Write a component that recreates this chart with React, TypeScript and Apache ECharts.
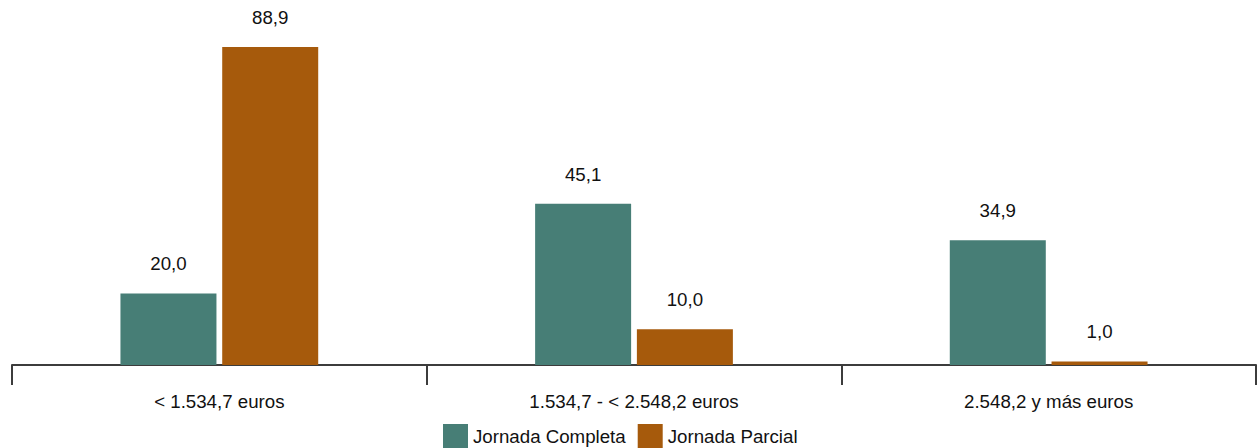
import React, { useEffect, useRef } from "react";
import * as echarts from "echarts";

const categories = ["< 1.534,7 euros", "1.534,7 - < 2.548,2 euros", "2.548,2 y más euros"];
const completa = [20.0, 45.1, 34.9];
const parcial = [88.9, 10.0, 1.0];
const seriesNames = ["Jornada Completa", "Jornada Parcial"];

const GREEN = "#477e76";
const ORANGE = "#a65a0c";
const FONT = "Arial, 'Liberation Sans', sans-serif";
const FS = 18.7;

export default function App() {
  const ref = useRef<HTMLDivElement>(null);
  useEffect(() => {
    if (!ref.current) return;
    const chart = echarts.init(ref.current, null, { renderer: "svg" });
    const fmt = (p: any) => Number(p.value).toFixed(1).replace(".", ",");
    const label = {
      show: true,
      position: "top",
      distance: 20,
      formatter: fmt,
      fontFamily: FONT,
      fontSize: FS,
      color: "#111111",
    };
    chart.setOption({
      animation: false,
      backgroundColor: "#ffffff",
      textStyle: { fontFamily: FONT },
      grid: { left: 12, right: 3, top: 7.3, bottom: 83, containLabel: false },
      legend: {
        left: 443,
        top: 424,
        padding: 0,
        itemWidth: 25,
        itemHeight: 25,
        itemGap: 12,
        icon: "rect",
        textStyle: { fontFamily: FONT, fontSize: FS, color: "#111111", padding: [0, 0, 12, 0] },
        data: seriesNames,
      },
      xAxis: {
        type: "category",
        data: categories,
        boundaryGap: true,
        axisLine: { show: true, lineStyle: { color: "#3c3c3c", width: 2 } },
        axisTick: { show: true, length: 20, alignWithLabel: false, lineStyle: { color: "#3c3c3c", width: 2 } },
        axisLabel: { fontFamily: FONT, fontSize: FS, color: "#111111", margin: 27 },
      },
      yAxis: {
        type: "value",
        min: 0,
        max: 100,
        show: false,
        splitLine: { show: false },
      },
      series: [
        {
          name: seriesNames[0],
          type: "bar",
          data: completa,
          barWidth: 96,
          barGap: "6%",
          itemStyle: { color: GREEN },
          label,
        },
        {
          name: seriesNames[1],
          type: "bar",
          data: parcial,
          barWidth: 96,
          barGap: "6%",
          itemStyle: { color: ORANGE },
          label,
        },
      ],
    });
    return () => chart.dispose();
  }, []);
  return (
    <div
      ref={ref}
      style={{ position: "fixed", left: 0, top: 0, width: 1259, height: 448, background: "#fff" }}
    />
  );
}
